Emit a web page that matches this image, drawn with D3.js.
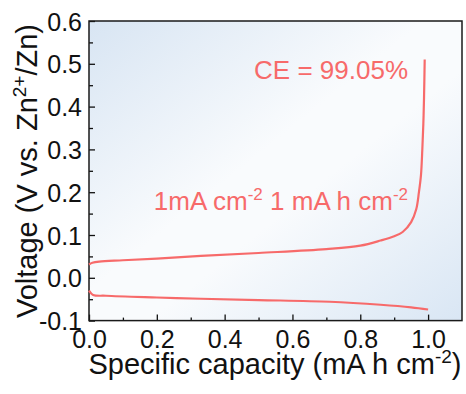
<!DOCTYPE html>
<html>
<head>
<meta charset="utf-8">
<script src="https://cdn.jsdelivr.net/npm/d3@7/dist/d3.min.js"></script>
<style>
  html, body { margin: 0; padding: 0; background: #fff; }
  svg { display: block; font-family: "Liberation Sans", Arial, sans-serif; }
</style>
</head>
<body>
<svg id="chart" width="466" height="394"></svg>
<script>
// Zn plating/stripping voltage profile
const chargeCapacity = [0, 0.01, 0.03, 0.1, 0.2, 0.33, 0.5, 0.7, 0.8, 0.86, 0.9, 0.925, 0.95, 0.965, 0.973, 0.979, 0.983, 0.986, 0.988, 0.99];
const chargeVoltage  = [0.031, 0.035, 0.038, 0.041, 0.045, 0.051, 0.058, 0.067, 0.075, 0.087, 0.097, 0.107, 0.13, 0.16, 0.2, 0.24, 0.3, 0.36, 0.42, 0.51];
const dischargeCapacity = [0, 0.012, 0.05, 0.2, 0.33, 0.5, 0.71, 0.86, 0.95, 1.0];
const dischargeVoltage  = [-0.030, -0.040, -0.042, -0.046, -0.049, -0.052, -0.056, -0.063, -0.069, -0.074];
const xTicks = [0, 0.2, 0.4, 0.6, 0.8, 1.0];
const yTicks = [-0.1, 0, 0.1, 0.2, 0.3, 0.4, 0.5, 0.6];
const ceLabel = "CE = 99.05%";

const svg = d3.select("#chart");
const mLeft = 89, mRight = 462, mTop = 21, mBottom = 320.6;
const x = d3.scaleLinear().domain([0, 1.1]).range([mLeft, mRight]);
const y = d3.scaleLinear().domain([-0.1, 0.6]).range([mBottom, mTop]);
const red = "#f76a6a";

// soft diagonal background in the plot area
const defs = svg.append("defs");
const grad = defs.append("linearGradient").attr("id", "bg")
  .attr("x1", "0%").attr("y1", "0%").attr("x2", "100%").attr("y2", "100%");
grad.append("stop").attr("offset", "0%").attr("stop-color", "#d8e5f3");
grad.append("stop").attr("offset", "45%").attr("stop-color", "#f9fbfd");
grad.append("stop").attr("offset", "58%").attr("stop-color", "#f9fbfd");
grad.append("stop").attr("offset", "100%").attr("stop-color", "#d9e6f4");
svg.append("rect").attr("x", mLeft).attr("y", mTop)
  .attr("width", mRight - mLeft).attr("height", mBottom - mTop)
  .attr("fill", "url(#bg)");

// axes with inward ticks
const xAxis = d3.axisBottom(x).tickValues(xTicks).tickSize(-6).tickPadding(10)
  .tickFormat(d3.format(".1f"));
const xMinor = d3.axisBottom(x).tickValues(d3.range(0.1, 1.1, 0.2)).tickSize(-3);
const yAxis = d3.axisLeft(y).tickValues(yTicks).tickSize(-6).tickPadding(7)
  .tickFormat(d => d3.format(".1f")(d).replace("−", "-"));
const yMinor = d3.axisLeft(y).tickValues(d3.range(-0.05, 0.6, 0.1)).tickSize(-4);

function styleAxis(g) {
  g.select(".domain").remove();
  g.selectAll(".tick line").attr("stroke", "#111").attr("stroke-width", 1.3);
  g.selectAll("text").attr("fill", "#111").attr("font-size", 25);
}
function minorOnly(g) {
  g.select(".domain").remove();
  g.selectAll(".tick text").remove();
  g.selectAll(".tick line").attr("stroke", "#111").attr("stroke-width", 1.3);
}
svg.append("g").attr("transform", `translate(0,${mBottom})`).call(xAxis).call(styleAxis);
svg.append("g").attr("transform", `translate(0,${mBottom})`).call(xMinor).call(minorOnly);
svg.append("g").attr("transform", `translate(${mLeft},0)`).call(yAxis).call(styleAxis)
  .selectAll("text").attr("dy", "0.36em");
svg.append("g").attr("transform", `translate(${mLeft},0)`).call(yMinor).call(minorOnly);

// frame
svg.append("rect").attr("x", mLeft).attr("y", mTop)
  .attr("width", mRight - mLeft).attr("height", mBottom - mTop)
  .attr("fill", "none").attr("stroke", "#1a1a1a").attr("stroke-width", 1.5);

// voltage curves
const line = d3.line().x(d => x(d[0])).y(d => y(d[1])).curve(d3.curveCatmullRom.alpha(0.5));
svg.append("path").datum(d3.zip(chargeCapacity, chargeVoltage))
  .attr("d", line).attr("fill", "none").attr("stroke", red).attr("stroke-width", 2.2);
svg.append("path").datum(d3.zip(dischargeCapacity, dischargeVoltage))
  .attr("d", line).attr("fill", "none").attr("stroke", red).attr("stroke-width", 2.2);

// annotations
svg.append("text").attr("x", 408).attr("y", 79).attr("text-anchor", "end")
  .attr("fill", red).attr("font-size", 26).text(ceLabel);
const cond = svg.append("text").attr("x", 408).attr("y", 210).attr("text-anchor", "end")
  .attr("fill", red).attr("font-size", 26);
cond.append("tspan").text("1mA cm");
cond.append("tspan").attr("font-size", 17).attr("dy", -10).text("-2");
cond.append("tspan").attr("dy", 10).text(" 1 mA h cm");
cond.append("tspan").attr("font-size", 17).attr("dy", -10).text("-2");

// axis titles
const xt = svg.append("text").attr("x", 275).attr("y", 374).attr("text-anchor", "middle")
  .attr("fill", "#111").attr("font-size", 29);
xt.append("tspan").text("Specific capacity (mA h cm");
xt.append("tspan").attr("font-size", 19).attr("dy", -11).text("-2");
xt.append("tspan").attr("dy", 11).text(")");

const yt = svg.append("text").attr("transform", "translate(37,171) rotate(-90)")
  .attr("text-anchor", "middle").attr("fill", "#111").attr("font-size", 29);
yt.append("tspan").text("Voltage (V vs. Zn");
yt.append("tspan").attr("font-size", 19).attr("dy", -11).text("2+");
yt.append("tspan").attr("dy", 11).text("/Zn)");
</script>
</body>
</html>
